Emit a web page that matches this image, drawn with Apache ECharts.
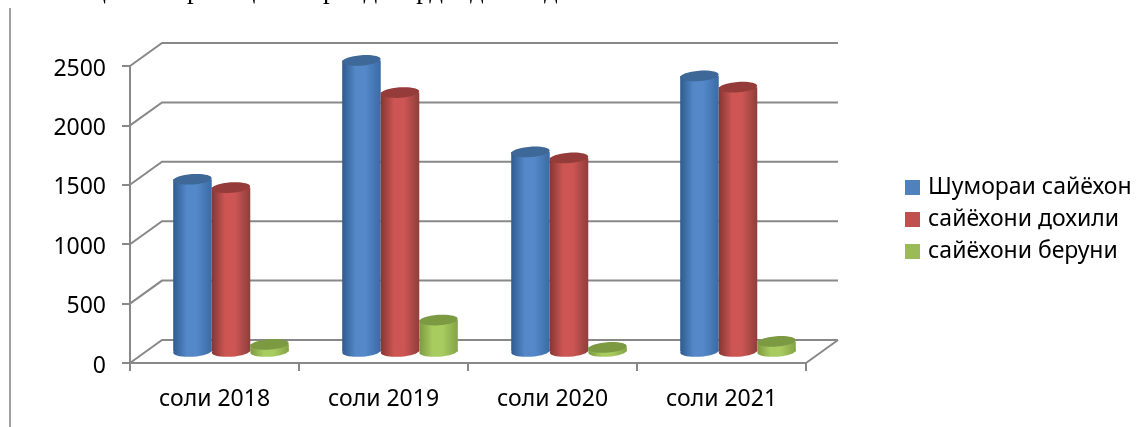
<!DOCTYPE html>
<html>
<head>
<meta charset="utf-8">
<style>html,body{margin:0;padding:0;background:#fff}#c{width:1148px;height:427px}</style>
<script src="https://cdn.jsdelivr.net/npm/echarts@6/dist/echarts.min.js"></script>
</head>
<body>
<div id="c"></div>
<script>
var categories = ['соли 2018', 'соли 2019', 'соли 2020', 'соли 2021'];
var seriesNames = ['Шумораи сайёхон', 'сайёхони дохили', 'сайёхони беруни'];
var totalTourists = [1450, 2450, 1680, 2320];
var domesticTourists = [1380, 2180, 1630, 2225];
var foreignTourists = [60, 265, 35, 85];
var yTicks = [0, 500, 1000, 1500, 2000, 2500];
var clippedTopText = 'са   е    ц            р      ц          р    д    ард    дан     д';

var DX = 32, DY = -23, FONT = '"Noto Sans", sans-serif', AXIS = '#888888';

var palettes = [
  { edge: '#2f5b8e', mid: '#5488c9', edge2: '#3b6ba5', top: '#3d6898' },
  { edge: '#853634', mid: '#cd5654', edge2: '#8e3e3b', top: '#953c3a' },
  { edge: '#7c9a40', mid: '#a9cc60', edge2: '#84a346', top: '#7b9a42' }
];

function wallRenderer(params, api) {
  var g = params.coordSys;
  var v = api.value(0);
  var y = api.coord([0, v])[1];
  var right = g.x + g.width;
  var kids = [{
    type: 'polyline',
    shape: { points: [[g.x, y], [g.x + DX, y + DY], [right + DX, y + DY]] },
    style: { stroke: AXIS, lineWidth: 2, fill: null }
  }];
  if (v === 0) {
    kids.push({
      type: 'polyline',
      shape: { points: [[right, y], [right + DX, y + DY]] },
      style: { stroke: AXIS, lineWidth: 2, fill: null }
    });
  }
  return { type: 'group', children: kids };
}

function cylinderRenderer(index) {
  return function (params, api) {
    var band = api.size([1, 0])[0];
    var p = api.coord([api.value(0), api.value(1)]);
    var base = api.coord([api.value(0), 0]);
    var w = band * 0.228;
    var rx = w / 2, ry = 5.2;
    var cx = p[0] + (index - 1) * band * 0.228 + DX / 2 + 0.5;
    var yTop = p[1] + DY / 2;
    var yBase = base[1] + DY / 2;
    var pal = palettes[index];
    var grad = new echarts.graphic.LinearGradient(0, 0, 1, 0, [
      { offset: 0, color: pal.edge },
      { offset: 0.35, color: pal.mid },
      { offset: 0.6, color: pal.mid },
      { offset: 1, color: pal.edge2 }
    ]);
    return {
      type: 'group',
      children: [
        { type: 'rect', shape: { x: cx - rx, y: yTop, width: w, height: yBase - yTop }, style: { fill: grad } },
        { type: 'ellipse', shape: { cx: cx, cy: yBase, rx: rx, ry: ry }, rotation: 0.07, originX: cx, originY: yBase, style: { fill: grad } },
        { type: 'ellipse', shape: { cx: cx, cy: yTop, rx: rx, ry: ry }, rotation: 0.07, originX: cx, originY: yTop, style: { fill: pal.top } }
      ]
    };
  };
}

function barData(values) {
  return values.map(function (v, i) { return [i, v]; });
}

var chart = echarts.init(document.getElementById('c'), null, { renderer: 'canvas' });
var allValues = [totalTourists, domesticTourists, foreignTourists];

chart.setOption({
  animation: false,
  backgroundColor: '#fff',
  textStyle: { fontFamily: FONT },
  grid: { left: 130, right: 342, top: 66, bottom: 64, containLabel: false },
  legend: {
    orient: 'vertical', left: 900, top: 171, itemWidth: 15, itemHeight: 15, itemGap: 9,
    icon: 'rect', selectedMode: false, data: seriesNames,
    textStyle: { fontFamily: FONT, fontSize: 23, lineHeight: 20, color: '#000', padding: [0, 0, 0, 3] }
  },
  xAxis: {
    type: 'category', data: categories,
    axisLine: { lineStyle: { color: AXIS, width: 2 } },
    axisTick: { show: true, length: 8, lineStyle: { color: AXIS, width: 2 } },
    axisLabel: { color: '#000', fontSize: 23, margin: 25, fontFamily: FONT },
    splitLine: { show: false }
  },
  yAxis: {
    type: 'value', min: 0, max: 2500, interval: 500,
    axisLine: { show: true, lineStyle: { color: AXIS, width: 2 } },
    axisTick: { show: true, length: 8, lineStyle: { color: AXIS, width: 2 } },
    axisLabel: { color: '#000', fontSize: 23, margin: 24, fontFamily: FONT, verticalAlign: 'top', lineHeight: 6,
      formatter: function (v) { return String(v); } },
    splitLine: { show: false }
  },
  graphic: [
    { type: 'line', silent: true, shape: { x1: 10, y1: 8, x2: 10, y2: 427 }, style: { stroke: '#a0a0a0', lineWidth: 2 } },
    { type: 'text', silent: true, x: 8, y: -23, style: { text: clippedTopText, font: '27px "Liberation Serif", serif', fill: '#000', textVerticalAlign: 'top' } }
  ],
  series: [
    { type: 'custom', name: '__wall', coordinateSystem: 'cartesian2d', renderItem: wallRenderer, data: yTicks.map(function (t) { return [t]; }), encode: { y: 0 }, clip: false, silent: true, z: 1, itemStyle: { color: AXIS } }
  ].concat(seriesNames.map(function (name, i) {
    return {
      type: 'custom', name: name, coordinateSystem: 'cartesian2d',
      renderItem: cylinderRenderer(i), data: barData(allValues[i]),
      encode: { x: 0, y: 1 }, clip: false, z: 2 + i,
      itemStyle: { color: ['#4f81bd', '#c0504d', '#9bbb59'][i] }
    };
  }))
});
</script>
</body>
</html>
